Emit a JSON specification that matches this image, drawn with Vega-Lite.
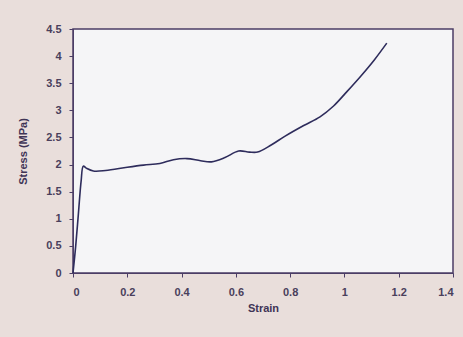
{
  "$schema": "https://vega.github.io/schema/vega-lite/v6.json",
  "width": 380,
  "height": 244,
  "autosize": {"type": "none"},
  "padding": {"left": 73, "top": 29, "right": 10, "bottom": 64},
  "background": "#e9dedb",
  "config": {
    "view": {"fill": "#f5f5f7", "stroke": "#4b3d66", "strokeWidth": 1.5},
    "axis": {
      "labelFont": "Liberation Sans",
      "labelFontWeight": "bold",
      "labelFontSize": 11,
      "labelColor": "#4a3f5c",
      "titleFont": "Liberation Sans",
      "titleFontWeight": "bold",
      "titleFontSize": 11,
      "titleColor": "#3f3456",
      "domainColor": "#4b3d66",
      "tickColor": "#4b3d66",
      "grid": false
    }
  },
  "data": {
    "values": [
      {"strain": 0.0, "stress": 0.0},
      {"strain": 0.01, "stress": 0.5},
      {"strain": 0.02, "stress": 1.1},
      {"strain": 0.03, "stress": 1.7},
      {"strain": 0.038, "stress": 1.97},
      {"strain": 0.05, "stress": 1.93},
      {"strain": 0.075, "stress": 1.88},
      {"strain": 0.12, "stress": 1.89},
      {"strain": 0.2, "stress": 1.95},
      {"strain": 0.26, "stress": 1.99},
      {"strain": 0.32, "stress": 2.02},
      {"strain": 0.37, "stress": 2.09},
      {"strain": 0.42, "stress": 2.11},
      {"strain": 0.47, "stress": 2.07},
      {"strain": 0.51, "stress": 2.05},
      {"strain": 0.56, "stress": 2.13},
      {"strain": 0.61, "stress": 2.25},
      {"strain": 0.65, "stress": 2.23},
      {"strain": 0.68, "stress": 2.23},
      {"strain": 0.73, "stress": 2.36},
      {"strain": 0.78, "stress": 2.52},
      {"strain": 0.85, "stress": 2.72},
      {"strain": 0.91, "stress": 2.88},
      {"strain": 0.96, "stress": 3.08},
      {"strain": 1.01, "stress": 3.35},
      {"strain": 1.06, "stress": 3.63},
      {"strain": 1.11, "stress": 3.93},
      {"strain": 1.156, "stress": 4.24}
    ]
  },
  "mark": {"type": "line", "color": "#2e2c5c", "strokeWidth": 1.6, "interpolate": "catmull-rom"},
  "encoding": {
    "x": {
      "field": "strain", "type": "quantitative", "title": "Strain",
      "scale": {"domain": [0, 1.4], "nice": false},
      "axis": {"values": [0, 0.2, 0.4, 0.6, 0.8, 1, 1.2, 1.4], "format": "~g", "labelPadding": 9, "titlePadding": 5, "tickSize": 4}
    },
    "y": {
      "field": "stress", "type": "quantitative", "title": "Stress (MPa)",
      "scale": {"domain": [0, 4.5], "nice": false},
      "axis": {"values": [0, 0.5, 1, 1.5, 2, 2.5, 3, 3.5, 4, 4.5], "format": "~g", "labelPadding": 8, "titlePadding": 17, "tickSize": 4}
    }
  }
}
